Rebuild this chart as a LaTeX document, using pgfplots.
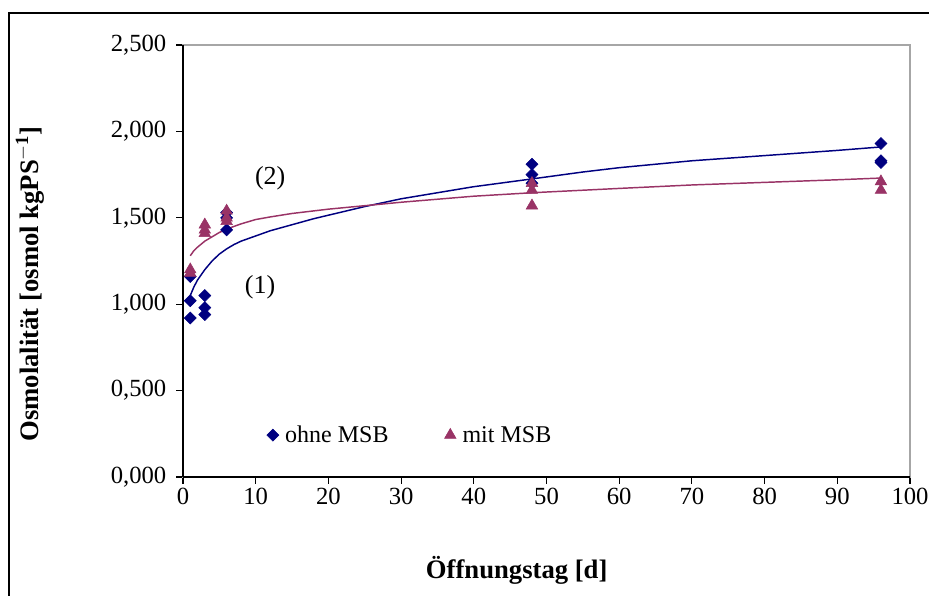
\documentclass[border=0pt]{standalone}
\usepackage{pgfplots}
\pgfplotsset{compat=1.18}
\usepackage{fontspec}
\setmainfont{Liberation Serif}
\definecolor{navyb}{HTML}{000080}
\definecolor{plum}{HTML}{993366}
\begin{document}
\begin{tikzpicture}
\useasboundingbox (0,0) rectangle (696.75pt,447pt);
\draw[line width=1.4pt] (6.75pt,-5pt) -- (6.75pt,437.25pt) -- (705pt,437.25pt);
\begin{axis}[
  at={(137.25pt,89.25pt)}, anchor=south west,
  scale only axis, width=545.25pt, height=324pt,
  xmin=0, xmax=100, ymin=0, ymax=2.5,
  xtick={0,10,...,100}, ytick={0,0.5,...,2.5},
  xtick pos=bottom, ytick pos=left,
  /pgf/number format/assume math mode=true,
  yticklabel style={xshift=-4pt, /pgf/number format/.cd, fixed, fixed zerofill, precision=3, use comma},
  xticklabel style={/pgf/number format/.cd, fixed},
  tick label style={font=\fontsize{18.5}{22}\selectfont, black},
  tick align=outside, major tick length=5pt,
  tick style={black, line width=0.8pt},
  axis line style={draw=gray!70, line width=1.4pt},
  ylabel={Osmolalität [osmol kgPS$^{\mathbf{-1}}$]},
  xlabel={Öffnungstag [d]},
  label style={font=\fontsize{20}{24}\selectfont\bfseries},
  ylabel style={at={(axis description cs:-0.2105,0.447)}, anchor=center},
  xlabel style={at={(axis description cs:0.459,-0.215)}, anchor=center},
  legend style={at={(axis description cs:0.115,0.097)}, anchor=west, draw=none, fill=none,
    inner sep=0pt, font=\fontsize{18}{20}\selectfont,
    /tikz/every even column/.append style={column sep=40pt}},
  legend columns=2,
  legend cell align=left,
  legend image code/.code={\draw[#1] plot coordinates {(0.2cm,0cm)};\path (0.2cm,0cm) ++(7pt,0pt);},
  clip=false,
]
\addplot[only marks, mark=square*, mark size=3.2pt, color=navyb, mark options={rotate=45}] coordinates {
 (1,1.16) (1,1.02) (1,0.92)
 (3,1.05) (3,0.98) (3,0.94)
 (6,1.53) (6,1.50) (6,1.43)
 (48,1.81) (48,1.75) (48,1.70)
 (96,1.93) (96,1.82) (96,1.83)
};
\addlegendentry{ohne MSB}
\addplot[only marks, mark=triangle*, mark size=5pt, color=plum] coordinates {
 (1,1.20) (1,1.18)
 (3,1.46) (3,1.43) (3,1.41)
 (6,1.54) (6,1.50) (6,1.48)
 (48,1.70) (48,1.66) (48,1.57)
 (96,1.71) (96,1.66)
};
\addlegendentry{mit MSB}
\addplot[navyb, line width=1.1pt, no marks, forget plot] coordinates {
 (1,1.05) (1.5,1.10) (2,1.14) (2.5,1.17) (3,1.20) (4,1.25) (5,1.29) (6,1.32) (7,1.345)
 (8,1.365) (10,1.395) (12,1.425) (15,1.46) (18,1.495) (20,1.515) (25,1.565) (30,1.61)
 (35,1.645) (40,1.68) (48,1.725) (55,1.765) (60,1.79) (70,1.83) (80,1.86) (90,1.89) (96,1.91)
};
\addplot[plum, line width=1.1pt, no marks, forget plot] coordinates {
 (1,1.28) (1.5,1.31) (2,1.33) (3,1.365) (4,1.39) (5,1.415) (6,1.435) (8,1.465) (10,1.49)
 (12,1.505) (15,1.525) (20,1.55) (25,1.57) (30,1.59) (40,1.625) (48,1.645) (60,1.67)
 (70,1.69) (80,1.705) (90,1.72) (96,1.73)
};
\draw[black, line width=0.8pt] (rel axis cs:0,0) -- (rel axis cs:1,0);
\draw[black, line width=0.8pt] (rel axis cs:0,0) -- (rel axis cs:0,1);
\node[font=\fontsize{19.5}{22}\selectfont] at (axis cs:12,1.73) {(2)};
\node[font=\fontsize{19.5}{22}\selectfont] at (axis cs:10.6,1.10) {(1)};
\end{axis}
\end{tikzpicture}
\end{document}
